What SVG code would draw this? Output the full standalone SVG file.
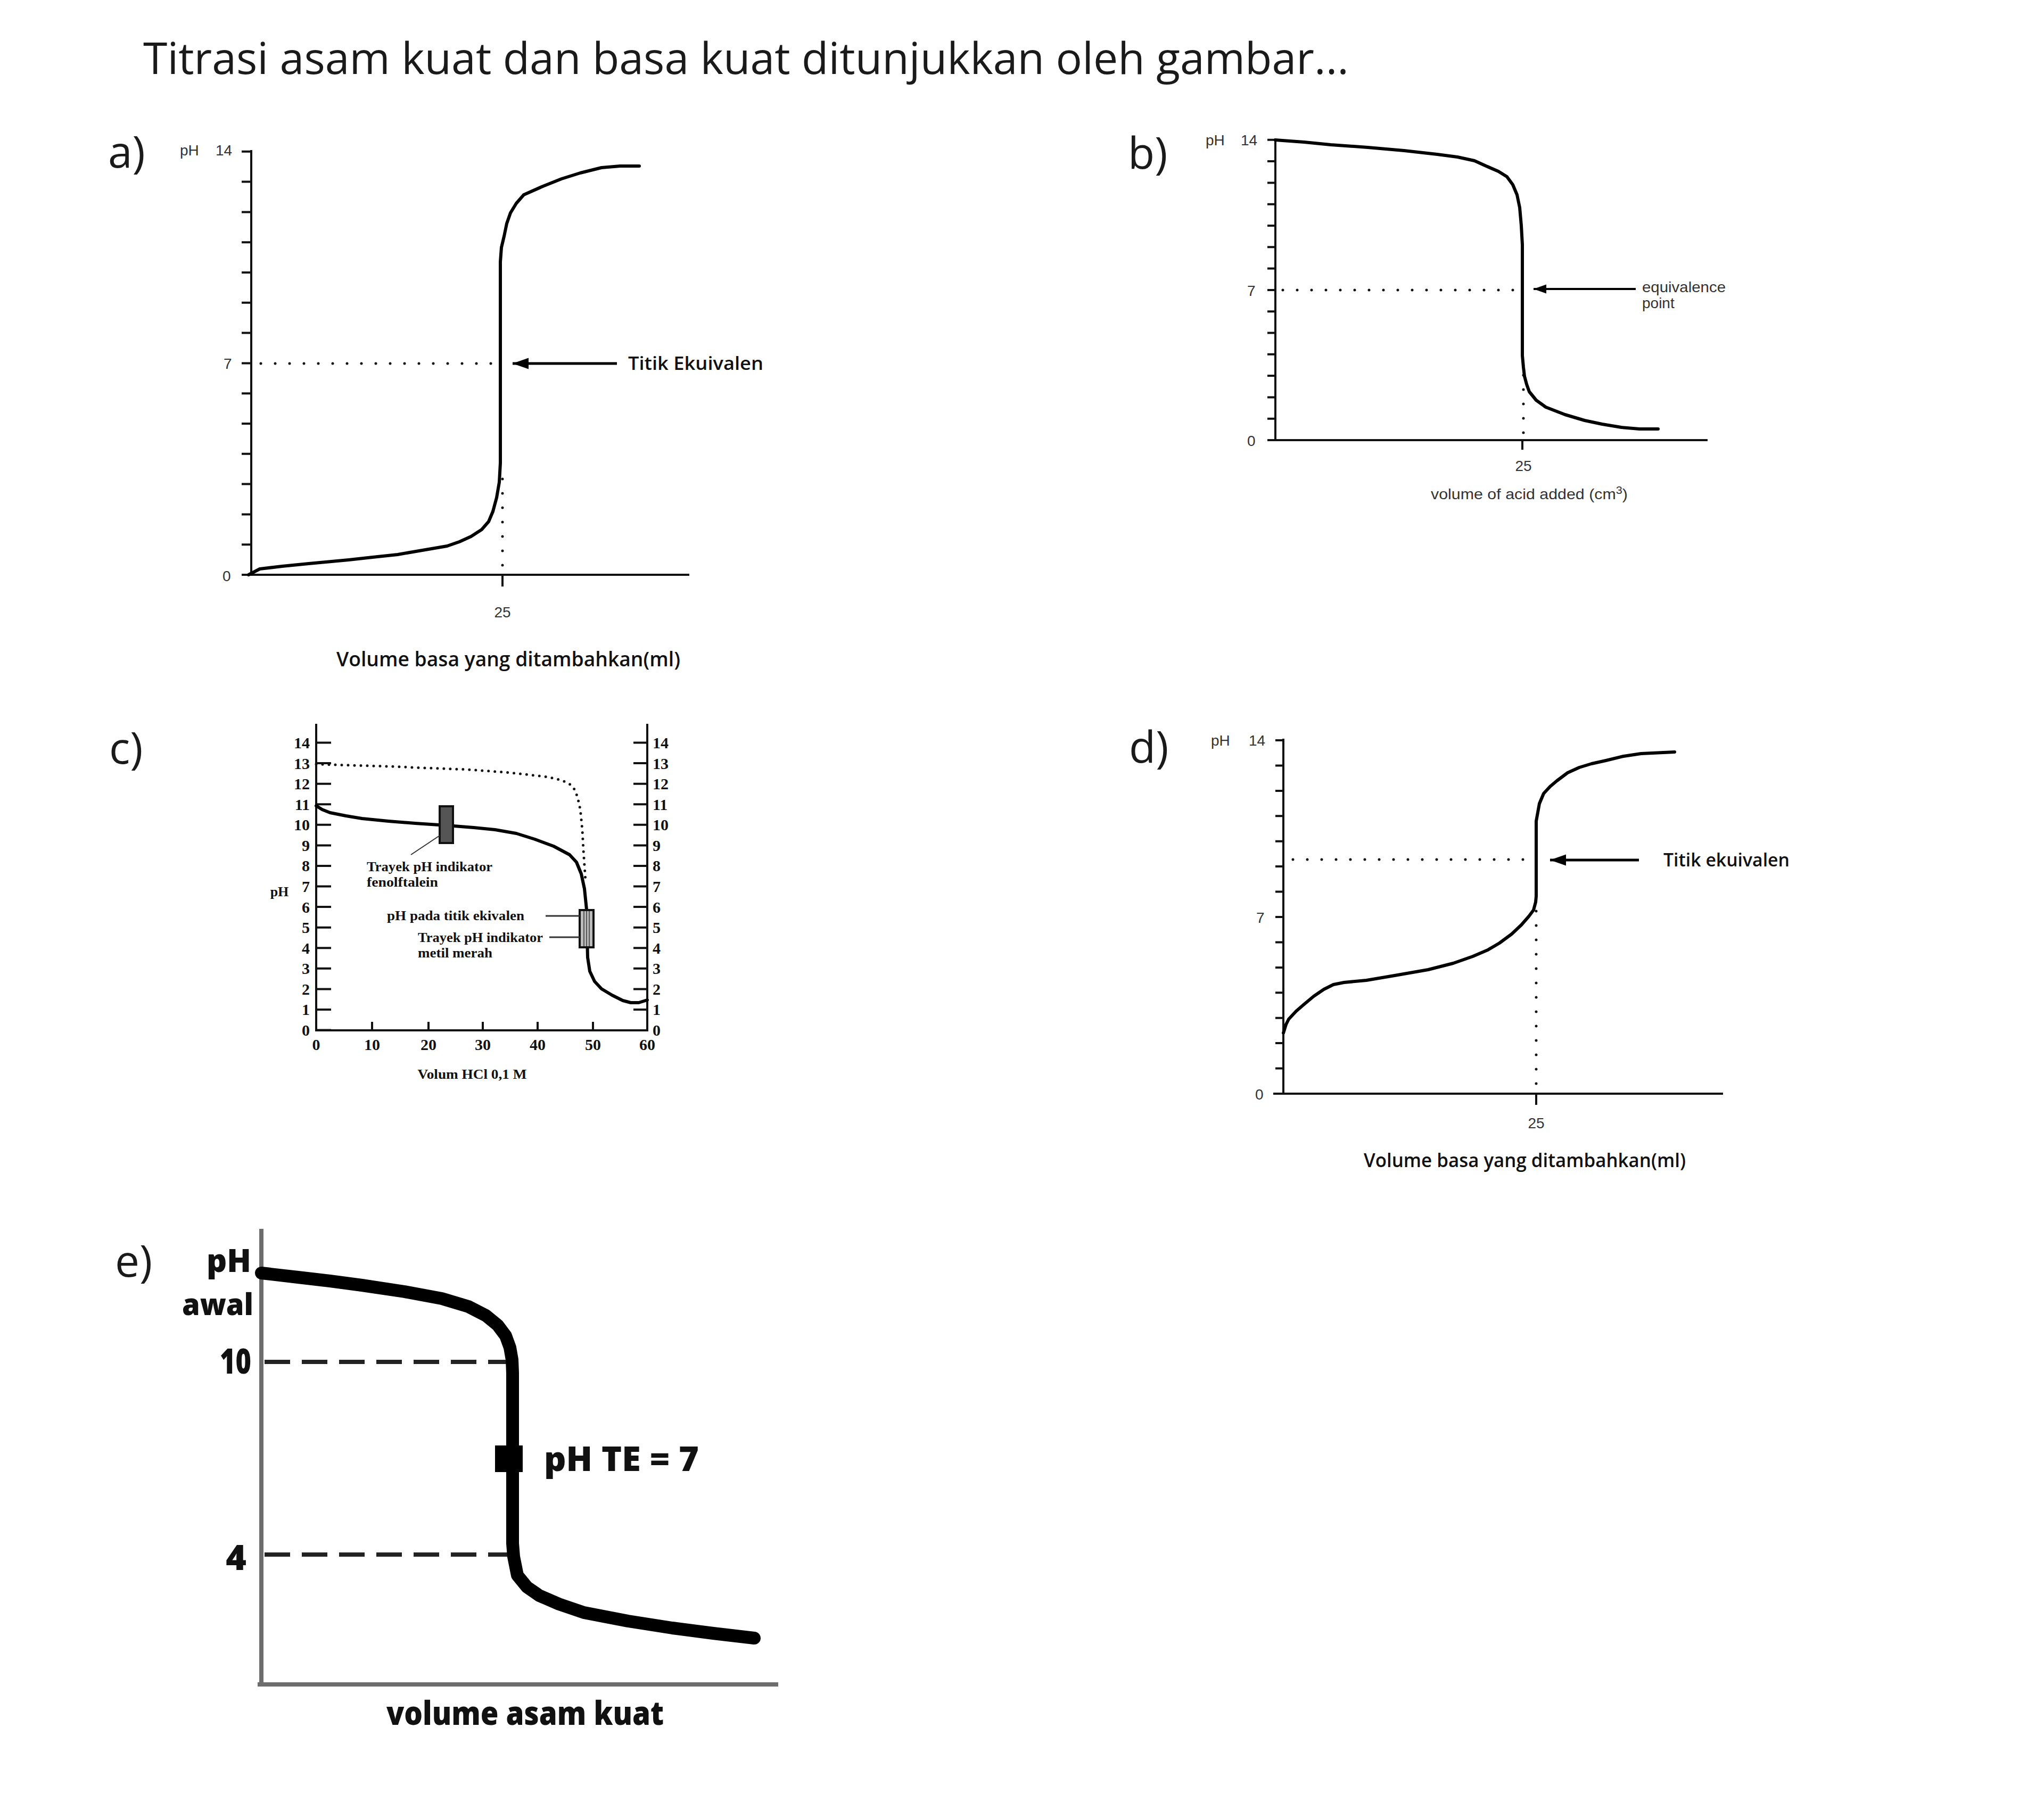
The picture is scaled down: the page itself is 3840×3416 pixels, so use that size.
<svg xmlns="http://www.w3.org/2000/svg" width="3840" height="3416" viewBox="0 0 3840 3416">
<defs>
<style>
.title{font-family:"Open Sans","Noto Sans",sans-serif;font-size:82px;fill:#1a1a1a}
.lbl{font-family:"Open Sans","Noto Sans",sans-serif;font-size:82px;fill:#1a1a1a}
.ax{stroke:#111;stroke-width:4;fill:none}
.curve{stroke:#000;stroke-width:6;fill:none;stroke-linejoin:round;stroke-linecap:round}
.dot{stroke:#111;stroke-width:5;stroke-dasharray:0 27;stroke-linecap:round;fill:none}
.small{font-family:"Liberation Sans",Arial,sans-serif;font-size:28px;fill:#333}
.cond{font-family:"Open Sans","Noto Sans",sans-serif;font-weight:600;fill:#111}
.tms{font-family:"Liberation Serif","Times New Roman",serif;fill:#111}
.heavy{font-family:"Open Sans","Noto Sans",sans-serif;font-weight:800;fill:#111}
</style>
<marker id="arr" viewBox="0 0 10 10" refX="10" refY="5" markerWidth="6" markerHeight="6" orient="auto" markerUnits="strokeWidth">
<path d="M0,1.5 L10,5 L0,8.5 Z" fill="#000"/>
</marker>
</defs>
<rect width="3840" height="3416" fill="#fff"/>
<text class="title" x="269" y="139" textLength="2265" lengthAdjust="spacingAndGlyphs">Titrasi asam kuat dan basa kuat ditunjukkan oleh gambar...</text>

<!-- Panel a -->
<g id="panel-a">
<text class="lbl" x="203" y="315">a)</text>
<path class="ax" d="M472,282 V1080 M455,1080 H1295 M944,1080 V1102"/>
<path class="ax" stroke-width="3" d="M454,1080H472 M454,1023.2H472 M454,966.4H472 M454,909.6H472 M454,852.8H472 M454,796H472 M454,739.2H472 M454,682.4H472 M454,625.6H472 M454,568.8H472 M454,512H472 M454,455.2H472 M454,398.4H472 M454,341.6H472 M454,284.8H472"/>
<text class="small" x="338" y="292" fill="#555">pH</text>
<text class="small" x="405" y="292" fill="#555">14</text>
<text class="small" x="420" y="693" fill="#555">7</text>
<text class="small" x="418" y="1092" fill="#555">0</text>
<text class="small" x="944" y="1160" text-anchor="middle">25</text>
<path class="dot" d="M490,683 H935 M944,900 V1070"/>
<polyline class="curve" points="467,1080 488,1069 530,1064 580,1059 655,1052 700,1047 747,1042 805,1032 840,1026 863,1018 885,1008 905,995 918,980 926,961 933,935 938,906 940,870 940,832 940,492 942,465 947,444 952,420 959,400 970,382 984,366 1020,350 1055,336 1090,325 1130,315 1165,312 1201,312"/>
<line x1="1159" y1="683" x2="963" y2="683" stroke="#000" stroke-width="5" marker-end="url(#arr)"/>
<text class="cond" x="1180" y="695" font-size="34" textLength="254" lengthAdjust="spacingAndGlyphs">Titik Ekuivalen</text>
<text class="cond" x="632" y="1252" font-size="38" textLength="646" lengthAdjust="spacingAndGlyphs">Volume basa yang ditambahkan(ml)</text>
</g>

<!-- Panel b -->
<g id="panel-b">
<text class="lbl" x="2119" y="317">b)</text>
<path class="ax" d="M2396,260 V827"/>
<path class="ax" stroke-width="5" d="M2381,827 H3208 M2860,827 V845"/>
<path class="ax" stroke-width="3" d="M2381,827H2396 M2381,786.7H2396 M2381,746.4H2396 M2381,706.1H2396 M2381,665.8H2396 M2381,625.5H2396 M2381,585.2H2396 M2381,544.9H2396 M2381,504.6H2396 M2381,464.3H2396 M2381,424H2396 M2381,383.7H2396 M2381,343.4H2396 M2381,303.1H2396 M2381,262.8H2396"/>
<text class="small" x="2265" y="273" fill="#111">pH</text>
<text class="small" x="2331" y="273" fill="#111">14</text>
<text class="small" x="2343" y="556" fill="#111">7</text>
<text class="small" x="2343" y="838" fill="#111">0</text>
<text class="small" x="2862" y="885" text-anchor="middle" fill="#111">25</text>
<path class="dot" stroke-width="4" d="M2410,545 H2855 M2862,705 V820"/>
<polyline class="curve" stroke-width="5" points="2396,263 2450,267 2500,272 2570,277 2638,283 2700,290 2738,295 2770,302 2792,312 2815,322 2831,332 2842,347 2850,366 2855,390 2858,424 2860,460 2860,668 2862,690 2864,707 2868,722 2873,736 2886,752 2904,765 2940,779 2977,790 3010,797 3046,803 3080,806 3115,806"/>
<line x1="3073" y1="543" x2="2881" y2="543" stroke="#000" stroke-width="4" marker-end="url(#arr)"/>
<text class="small" x="3085" y="549" font-size="27" fill="#111" textLength="157" lengthAdjust="spacingAndGlyphs">equivalence</text>
<text class="small" x="3085" y="579" font-size="27" fill="#111">point</text>
<text class="small" x="2688" y="938" font-size="27" fill="#111" textLength="370" lengthAdjust="spacingAndGlyphs">volume of acid added (cm<tspan dy="-10" font-size="20">3</tspan><tspan dy="10">)</tspan></text>
</g>

<!-- Panel c -->
<g id="panel-c">
<text class="lbl" x="205" y="1435">c)</text>
<path class="ax" d="M594,1360 V1936 M592,1936 H1218 M1216,1360 V1936"/>
<path class="ax" stroke-width="3" d="M594,1935.5H622 M594,1896.9H622 M594,1858.4H622 M594,1819.8H622 M594,1781.2H622 M594,1742.7H622 M594,1704.1H622 M594,1665.5H622 M594,1626.9H622 M594,1588.4H622 M594,1549.8H622 M594,1511.2H622 M594,1472.7H622 M594,1434.1H622 M594,1395.5H622"/>
<path class="ax" stroke-width="3" d="M1190,1896.9H1216 M1190,1858.4H1216 M1190,1819.8H1216 M1190,1781.2H1216 M1190,1742.7H1216 M1190,1704.1H1216 M1190,1665.5H1216 M1190,1626.9H1216 M1190,1588.4H1216 M1190,1549.8H1216 M1190,1511.2H1216 M1190,1472.7H1216 M1190,1434.1H1216 M1190,1395.5H1216"/>
<path class="ax" stroke-width="3" d="M699,1936V1920 M805,1936V1920 M907,1936V1920 M1010,1936V1920 M1114,1936V1920"/>
<g class="tms" font-size="30" font-weight="bold" text-anchor="end">
<text x="582" y="1946">0</text><text x="582" y="1907">1</text><text x="582" y="1869">2</text><text x="582" y="1830">3</text><text x="582" y="1792">4</text><text x="582" y="1753">5</text><text x="582" y="1715">6</text><text x="582" y="1676">7</text><text x="582" y="1637">8</text><text x="582" y="1599">9</text><text x="582" y="1560">10</text><text x="582" y="1522">11</text><text x="582" y="1483">12</text><text x="582" y="1445">13</text><text x="582" y="1406">14</text>
</g>
<g class="tms" font-size="30" font-weight="bold">
<text x="1226" y="1946">0</text><text x="1226" y="1907">1</text><text x="1226" y="1869">2</text><text x="1226" y="1830">3</text><text x="1226" y="1792">4</text><text x="1226" y="1753">5</text><text x="1226" y="1715">6</text><text x="1226" y="1676">7</text><text x="1226" y="1637">8</text><text x="1226" y="1599">9</text><text x="1226" y="1560">10</text><text x="1226" y="1522">11</text><text x="1226" y="1483">12</text><text x="1226" y="1445">13</text><text x="1226" y="1406">14</text>
</g>
<g class="tms" font-size="30" font-weight="bold" text-anchor="middle">
<text x="594" y="1973">0</text><text x="699" y="1973">10</text><text x="805" y="1973">20</text><text x="907" y="1973">30</text><text x="1010" y="1973">40</text><text x="1114" y="1973">50</text><text x="1216" y="1973">60</text>
</g>
<text class="tms" x="525" y="1684" font-size="26" font-weight="bold" text-anchor="middle">pH</text>
<path d="M594,1436 L660,1438 730,1440 800,1443 880,1446 960,1452 1030,1460 1055,1466 1070,1473 1080,1484 1085,1498 1089,1515 1091,1529 1094,1560 1096,1597 1100,1655" fill="none" stroke="#111" stroke-width="5" stroke-dasharray="0 12" stroke-linecap="round"/>
<polyline class="curve" stroke-width="4" points="594,1514 605,1521 620,1527 650,1533 680,1538 730,1543 780,1547 840,1551 890,1555 930,1559 970,1566 1005,1577 1040,1590 1070,1606 1083,1620 1092,1642 1098,1670 1102,1709 1103,1760 1104,1799 1108,1825 1117,1844 1130,1858 1150,1870 1170,1880 1185,1884 1200,1884 1216,1879"/>
<rect x="826" y="1515" width="25" height="69" fill="#555" stroke="#111" stroke-width="4"/>
<line x1="826" y1="1570" x2="772" y2="1606" stroke="#333" stroke-width="2"/>
<rect x="1089" y="1710" width="26" height="70" fill="#bbb" stroke="#111" stroke-width="4"/>
<path d="M1097,1712V1778 M1102,1712V1778 M1107,1712V1778" stroke="#555" stroke-width="2"/>
<path d="M1025,1721H1089 M1032,1761H1089" stroke="#333" stroke-width="3"/>
<g class="tms" font-size="26" font-weight="bold">
<text x="689" y="1637" textLength="236" lengthAdjust="spacingAndGlyphs">Trayek pH indikator</text>
<text x="689" y="1666" textLength="134" lengthAdjust="spacingAndGlyphs">fenolftalein</text>
<text x="727" y="1729" textLength="258" lengthAdjust="spacingAndGlyphs">pH pada titik ekivalen</text>
<text x="785" y="1770" textLength="235" lengthAdjust="spacingAndGlyphs">Trayek pH indikator</text>
<text x="785" y="1799" textLength="140" lengthAdjust="spacingAndGlyphs">metil merah</text>
</g>
<text class="tms" x="887" y="2027" font-size="26" font-weight="bold" text-anchor="middle" textLength="205" lengthAdjust="spacingAndGlyphs">Volum HCl 0,1 M</text>
</g>

<!-- Panel d -->
<g id="panel-d">
<text class="lbl" x="2121" y="1433">d)</text>
<path class="ax" d="M2411,1388 V2055 M2392,2055 H3237 M2886,2055 V2076"/>
<path class="ax" stroke-width="3" d="M2396,2055H2411 M2396,2007.6H2411 M2396,1960.1H2411 M2396,1912.7H2411 M2396,1865.3H2411 M2396,1817.9H2411 M2396,1770.4H2411 M2396,1723H2411 M2396,1675.6H2411 M2396,1628.1H2411 M2396,1580.7H2411 M2396,1533.3H2411 M2396,1485.9H2411 M2396,1438.4H2411 M2396,1391H2411"/>
<text class="small" x="2275" y="1401" fill="#555">pH</text>
<text class="small" x="2346" y="1401" fill="#555">14</text>
<text class="small" x="2360" y="1734" fill="#555">7</text>
<text class="small" x="2358" y="2066" fill="#555">0</text>
<text class="small" x="2886" y="2120" text-anchor="middle">25</text>
<path class="dot" d="M2429,1615 H2875 M2886,1712 V2045"/>
<polyline class="curve" points="2411,1941 2416,1925 2421,1915 2435,1900 2450,1887 2468,1872 2487,1859 2505,1850 2525,1846 2567,1842 2620,1833 2683,1822 2730,1810 2767,1797 2795,1785 2817,1772 2840,1755 2858,1738 2872,1722 2881,1710 2885,1695 2886,1684 2886,1543 2892,1510 2900,1491 2912,1478 2925,1467 2945,1452 2967,1442 2990,1435 3017,1429 3050,1421 3083,1416 3146,1413"/>
<line x1="3079" y1="1616" x2="2912" y2="1616" stroke="#000" stroke-width="5" marker-end="url(#arr)"/>
<text class="cond" x="3125" y="1628" font-size="34" textLength="237" lengthAdjust="spacingAndGlyphs">Titik ekuivalen</text>
<text class="cond" x="2562" y="2193" font-size="36" textLength="605" lengthAdjust="spacingAndGlyphs">Volume basa yang ditambahkan(ml)</text>
</g>

<!-- Panel e -->
<g id="panel-e">
<text class="lbl" x="216" y="2399">e)</text>
<path d="M491,2309 V3168 M484,3165 H1462" stroke="#6d6d6d" stroke-width="8" fill="none"/>
<path d="M497,2559 H955 M497,2921 H955" stroke="#222" stroke-width="8" stroke-dasharray="48 22" fill="none"/>
<polyline points="491,2392 560,2400 620,2407 680,2415 760,2427 830,2440 880,2455 913,2472 935,2490 950,2510 958,2532 962,2555 963,2580 963,2900 965,2925 972,2960 990,2982 1013,2998 1050,3014 1097,3030 1180,3046 1263,3059 1340,3069 1417,3078" fill="none" stroke="#000" stroke-width="24" stroke-linejoin="round" stroke-linecap="round"/>
<rect x="930" y="2716" width="52" height="50" fill="#000"/>
<text class="heavy" x="472" y="2390" font-size="60" text-anchor="end" textLength="84" lengthAdjust="spacingAndGlyphs">pH</text>
<text class="heavy" x="476" y="2471" font-size="56" text-anchor="end" textLength="134" lengthAdjust="spacingAndGlyphs">awal</text>
<text class="heavy" x="472" y="2581" font-size="66" text-anchor="end" textLength="59" lengthAdjust="spacingAndGlyphs">10</text>
<text class="heavy" x="463" y="2950" font-size="66" text-anchor="end">4</text>
<text class="heavy" x="1022" y="2764" font-size="64" textLength="291" lengthAdjust="spacingAndGlyphs">pH TE = 7</text>
<text class="heavy" x="726" y="3241" font-size="62" textLength="521" lengthAdjust="spacingAndGlyphs">volume asam kuat</text>
</g>
</svg>
